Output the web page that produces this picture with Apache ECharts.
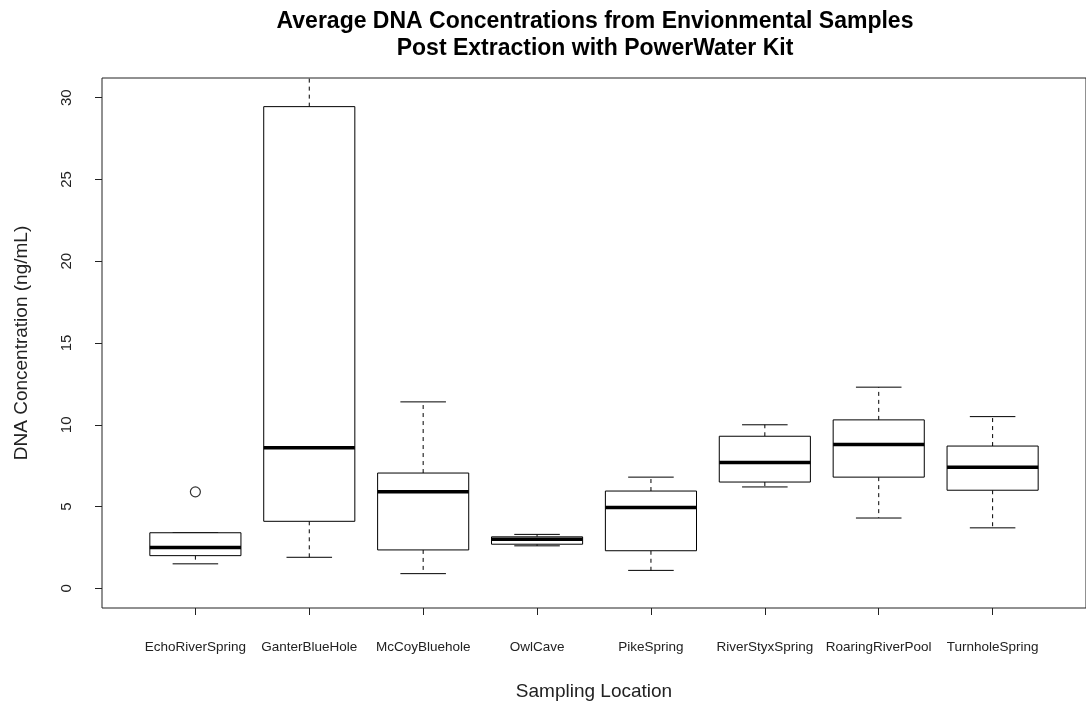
<!DOCTYPE html>
<html>
<head>
<meta charset="utf-8">
<script src="https://cdn.jsdelivr.net/npm/echarts@6/dist/echarts.min.js"></script>
<style>
  html, body { margin: 0; padding: 0; background: #fff; }
  #main { width: 1086px; height: 707px; }
</style>
</head>
<body>
<div id="main"></div>
<script>
// boxplot stats (ng/mL)
const categories = ['EchoRiverSpring', 'GanterBlueHole', 'McCoyBluehole', 'OwlCave',
  'PikeSpring', 'RiverStyxSpring', 'RoaringRiverPool', 'TurnholeSpring'];
const lowerWhisker = [1.5, 1.9, 0.9, 2.6, 1.1, 6.2, 4.3, 3.7];
const q1 = [2.0, 4.1, 2.35, 2.7, 2.3, 6.5, 6.8, 6.0];
const median = [2.5, 8.6, 5.9, 3.0, 4.95, 7.7, 8.8, 7.4];
const q3 = [3.4, 29.45, 7.05, 3.15, 5.95, 9.3, 10.3, 8.7];
const upperWhisker = [3.4, 33.0, 11.4, 3.3, 6.8, 10.0, 12.3, 10.5];
const outlierPos = [1];
const outlierVal = [5.9];
const yTicks = [0, 5, 10, 15, 20, 25, 30];

const positions = categories.map((c, i) => i + 1);
const boxData = positions.map((p, i) =>
  [p, lowerWhisker[i], q1[i], median[i], q3[i], upperWhisker[i]]);
const outlierData = outlierPos.map((p, i) => [p, outlierVal[i]]);

const chart = echarts.init(document.getElementById('main'));

function renderBox(params, api) {
  const x = api.value(0);
  const lo = api.coord([x, api.value(1)]);
  const b1 = api.coord([x, api.value(2)]);
  const md = api.coord([x, api.value(3)]);
  const b3 = api.coord([x, api.value(4)]);
  const hi = api.coord([x, api.value(5)]);
  const w = api.size([0.8, 0])[0];
  const cx = lo[0];
  const solid = { stroke: '#000', lineWidth: 1, fill: null };
  const dashed = { stroke: '#000', lineWidth: 1, lineDash: [4, 4], fill: null };
  return {
    type: 'group',
    children: [
      { type: 'line', shape: { x1: cx, y1: b3[1], x2: cx, y2: hi[1] }, style: dashed },
      { type: 'line', shape: { x1: cx, y1: b1[1], x2: cx, y2: lo[1] }, style: dashed },
      { type: 'line', shape: { x1: cx - w / 4, y1: hi[1], x2: cx + w / 4, y2: hi[1] }, style: solid },
      { type: 'line', shape: { x1: cx - w / 4, y1: lo[1], x2: cx + w / 4, y2: lo[1] }, style: solid },
      { type: 'rect', shape: { x: cx - w / 2, y: b3[1], width: w, height: b1[1] - b3[1] },
        style: { stroke: '#000', lineWidth: 1, fill: '#fff' } },
      { type: 'line', shape: { x1: cx - w / 2, y1: md[1], x2: cx + w / 2, y2: md[1] },
        style: { stroke: '#000', lineWidth: 3.5 } }
    ]
  };
}

chart.setOption({
  animation: false,
  textStyle: { fontFamily: 'Liberation Sans, Arial, sans-serif' },
  title: {
    text: 'Average DNA Concentrations from Envionmental Samples\nPost Extraction with PowerWater Kit',
    left: 590,
    top: 3,
    textAlign: 'center',
    textStyle: { fontSize: 23, fontWeight: 'bold', color: '#000', lineHeight: 27 }
  },
  grid: {
    left: 102, top: 78, width: 988, bottom: 99,
    show: true, borderColor: '#222', borderWidth: 1, backgroundColor: 'transparent'
  },
  xAxis: {
    type: 'value',
    min: 0.18, max: 8.82,
    name: 'Sampling Location',
    nameLocation: 'middle',
    nameGap: 74,
    nameTextStyle: { fontSize: 19, color: '#222' },
    axisLine: { show: false, onZero: false },
    splitLine: { show: false },
    axisTick: { show: true, length: 7, customValues: positions, lineStyle: { color: '#222' } },
    axisLabel: {
      customValues: positions, margin: 32, fontSize: 13.5, color: '#222',
      formatter: v => categories[Math.round(v) - 1]
    }
  },
  yAxis: {
    type: 'value',
    min: -1.2, max: 31.2,
    name: 'DNA Concentration (ng/mL)',
    nameLocation: 'middle',
    nameRotate: 90,
    nameGap: 71,
    nameTextStyle: { fontSize: 19, color: '#222' },
    axisLine: { show: false, onZero: false },
    splitLine: { show: false },
    axisTick: { show: true, length: 7, customValues: yTicks, lineStyle: { color: '#222' } },
    axisLabel: { customValues: yTicks, rotate: 90, margin: 28, fontSize: 15, color: '#222' }
  },
  series: [
    {
      type: 'custom',
      clip: true,
      renderItem: renderBox,
      encode: { x: 0, y: [1, 2, 3, 4, 5] },
      data: boxData
    },
    {
      type: 'scatter',
      symbol: 'circle',
      symbolSize: 10,
      z: 5,
      itemStyle: { color: 'rgba(255,255,255,0)', borderColor: '#000', borderWidth: 1.2 },
      data: outlierData
    }
  ]
});
</script>
</body>
</html>
